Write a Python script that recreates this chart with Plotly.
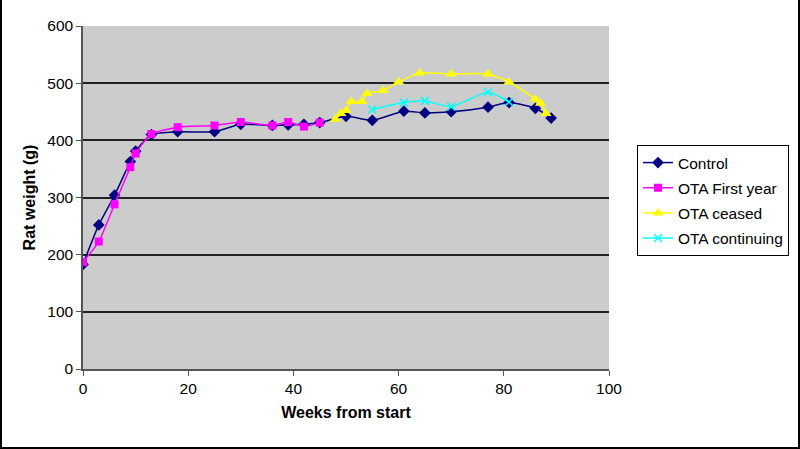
import plotly.graph_objects as go

# Data
control_x = [0, 3, 6, 9, 10, 13, 18, 25, 30, 36, 39, 42, 45, 50, 55, 61, 65, 70, 77, 81, 86, 89]
control_y = [183, 252, 304, 363, 381, 410, 415, 415, 428, 426, 427, 428, 431, 442, 435, 451, 448, 450, 458, 466, 456, 439]

first_x = [0, 3, 6, 9, 10, 13, 18, 25, 30, 36, 39, 42, 45]
first_y = [187, 223, 288, 353, 377, 411, 423, 426, 432, 426, 432, 424, 431]

ceased_x = [48, 49, 50, 51, 53, 54, 57, 60, 64, 70, 77, 81, 86, 87, 88]
ceased_y = [437, 447, 452, 468, 468, 482, 487, 502, 518, 516, 516, 502, 472, 465, 447]

cont_x = [55, 61, 65, 70, 77, 81]
cont_y = [454, 466, 469, 459, 484, 467]

x_ticks = [0, 20, 40, 60, 80, 100]
y_ticks = [0, 100, 200, 300, 400, 500, 600]

W, H = 800, 449
L, R, T, B = 83, 191, 26, 80
pw, ph = W - L - R, H - T - B

FONT = "Liberation Sans, Arial, sans-serif"

fig = go.Figure()

fig.add_trace(go.Scatter(
    x=control_x, y=control_y, name="Control", mode="lines+markers",
    line=dict(color="#000080", width=1.5, shape="spline", smoothing=0.6),
    marker=dict(symbol="diamond", size=9, color="#000080"),
    legendgroup="a"))
fig.add_trace(go.Scatter(
    x=first_x, y=first_y, name="OTA First year", mode="lines+markers",
    line=dict(color="#FF00FF", width=1.5, shape="spline", smoothing=0.6),
    marker=dict(symbol="square", size=8, color="#FF00FF"),
    legendgroup="b"))
fig.add_trace(go.Scatter(
    x=ceased_x, y=ceased_y, name="OTA ceased", mode="lines+markers",
    line=dict(color="#FFFF00", width=1.5, shape="spline", smoothing=0.6),
    marker=dict(symbol="triangle-up", size=10, color="#FFFF00"),
    legendgroup="c"))
fig.add_trace(go.Scatter(
    x=cont_x, y=cont_y, name="OTA continuing", mode="lines+markers",
    line=dict(color="#00FFFF", width=1.5, shape="spline", smoothing=0.6),
    marker=dict(symbol="x-thin", size=8, color="#00FFFF",
                line=dict(color="#00FFFF", width=1.5)),
    legendgroup="d"))

fig.update_layout(
    width=W, height=H,
    margin=dict(l=L, r=R, t=T, b=B, autoexpand=False),
    paper_bgcolor="white",
    plot_bgcolor="#cccccc",
    font=dict(family=FONT, size=15.5, color="black"),
    showlegend=True,
    legend=dict(
        x=(637 - L) / pw, y=(H - B - 145) / ph, xanchor="left", yanchor="top",
        bordercolor="black", borderwidth=1, bgcolor="white",
        font=dict(family=FONT, size=15.5, color="black"),
        traceorder="grouped", tracegroupgap=2,
    ),
    shapes=[dict(
        type="rect", xref="paper", yref="paper",
        x0=-(L - 1) / pw, x1=(W - L - 1) / pw,
        y0=-(B - 1) / ph, y1=(H - T - 1) / ph,
        line=dict(color="black", width=2), fillcolor="rgba(0,0,0,0)",
        layer="above")],
)

fig.update_xaxes(
    range=[0, 100], tickvals=x_ticks, showgrid=False, zeroline=False,
    showline=True, linecolor="#555555", linewidth=1.5,
    ticks="outside", ticklen=5, tickcolor="#555555", tickwidth=1,
    tickfont=dict(family=FONT, size=15.5),
    title=dict(text="<b>Weeks from start</b>", standoff=10,
               font=dict(family=FONT, size=16)),
)
fig.update_yaxes(
    range=[0, 600], tickvals=y_ticks, showgrid=True, gridcolor="#222222", gridwidth=1.5,
    zeroline=False,
    showline=True, linecolor="#555555", linewidth=1.5,
    ticks="outside", ticklen=5, tickcolor="#555555", tickwidth=1,
    tickfont=dict(family=FONT, size=15.5),
    title=dict(text="<b>Rat weight (g)</b>", standoff=8,
               font=dict(family=FONT, size=16)),
)

fig.write_html("out.html",
               config={"displayModeBar": False},
               post_script="document.body.style.margin='0';document.body.style.overflow='hidden';")
